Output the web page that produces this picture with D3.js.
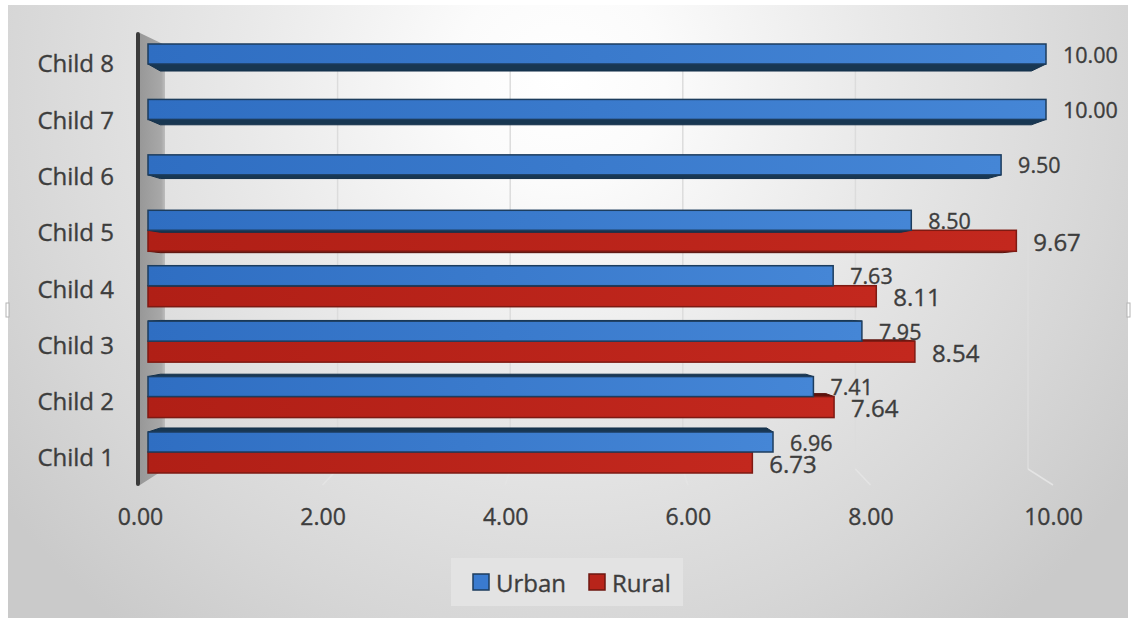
<!DOCTYPE html>
<html>
<head>
<meta charset="utf-8">
<script src="https://cdn.jsdelivr.net/npm/d3@7"></script>
<style>
  html, body { margin: 0; padding: 0; background: #ffffff; }
  svg { display: block; font-family: "Open Sans", "Noto Sans", sans-serif; }
  text { stroke: #3d3d3d; stroke-width: 0.35px; }
</style>
</head>
<body>
<svg id="chart" width="1132" height="618"></svg>
<script>
// Scores per child, urban vs rural
const categories = ["Child 1", "Child 2", "Child 3", "Child 4", "Child 5", "Child 6", "Child 7", "Child 8"];
const urban = [6.96, 7.41, 7.95, 7.63, 8.50, 9.50, 10.00, 10.00];
const rural = [6.73, 7.64, 8.54, 8.11, 9.67, null, null, null];
const xTicks = [0, 2, 4, 6, 8, 10];
const seriesNames = ["Urban", "Rural"];

const svg = d3.select("#chart");
const W = 1132, H = 618;
const fmt = d3.format(".2f");
const textColor = "#3d3d3d";

// 3D box geometry: front plane, bar plane and back wall share one value domain
const frontX = d3.scaleLinear().domain([0, 10]).range([140, 1053]);
const barX   = d3.scaleLinear().domain([0, 10]).range([148, 1046]);
const backX  = d3.scaleLinear().domain([0, 10]).range([165, 1028]);
const barY   = d3.scalePoint().domain(categories).range([452, 64]);   // boundary between the pair
const labelY = d3.scalePoint().domain(categories).range([457.5, 63.5]);

const eyeY = 298, eyeX = 560, depthK = 0.03;
const blueH = 20, redH = 21;

const defs = svg.append("defs");

const bg = defs.append("radialGradient").attr("id", "bg")
  .attr("gradientUnits", "userSpaceOnUse")
  .attr("cx", 560).attr("cy", 80).attr("r", 700);
[[0, "#ffffff"], [0.15, "#fbfbfb"], [0.45, "#e9e9e9"], [0.8, "#d6d6d6"], [1, "#cacaca"]]
  .forEach(([o, c]) => bg.append("stop").attr("offset", o).attr("stop-color", c));

const wall = defs.append("linearGradient").attr("id", "wall")
  .attr("x1", 0).attr("x2", 1).attr("y1", 0).attr("y2", 0);
wall.append("stop").attr("offset", 0).attr("stop-color", "#989898");
wall.append("stop").attr("offset", 0.85).attr("stop-color", "#a8a8a8");
wall.append("stop").attr("offset", 1).attr("stop-color", "#bdbdbd");

function faceGrad(id, c0, c1) {
  const g = defs.append("linearGradient").attr("id", id)
    .attr("x1", 0).attr("x2", 1).attr("y1", 0).attr("y2", 0);
  g.append("stop").attr("offset", 0).attr("stop-color", c0);
  g.append("stop").attr("offset", 1).attr("stop-color", c1);
}
faceGrad("blueFace", "#2f6ec2", "#4586d6");
faceGrad("redFace", "#b01f16", "#c3281e");

// chart background
svg.append("rect").attr("x", 8).attr("y", 5).attr("width", W - 12).attr("height", H - 5)
  .attr("fill", "url(#bg)");

// back wall gridlines and floor lines
const grid = svg.append("g");
xTicks.filter(v => v > 0).forEach(v => {
  grid.append("line")
    .attr("x1", backX(v)).attr("x2", backX(v)).attr("y1", 45).attr("y2", 469)
    .attr("stroke", "#dcdcdc").attr("stroke-width", 1.5);
  grid.append("line")
    .attr("x1", backX(v)).attr("x2", frontX(v)).attr("y1", 469).attr("y2", 485)
    .attr("stroke", "#e4e4e4").attr("stroke-width", 1.5);
});

// left side wall
svg.append("path")
  .attr("d", `M${frontX(0)},33 L${backX(0)},45 L${backX(0)},469 L${frontX(0)},485 Z`)
  .attr("fill", "url(#wall)");

// bars
const rows = categories.map((c, i) => ({ cat: c, u: urban[i], r: rural[i] }));
const bars = svg.append("g");

function depthFace(x0, x1, yTop, yBot) {
  // visible top or bottom face of a bar seen from eye height
  let ye = null;
  if (yBot < eyeY) ye = yBot;
  else if (yTop > eyeY) ye = yTop;
  if (ye === null) return null;
  const dy = depthK * (eyeY - ye);
  const dx0 = depthK * (eyeX - x0), dx1 = depthK * (eyeX - x1);
  return `M${x0},${ye} L${x1},${ye} L${x1 + dx1},${ye + dy} L${x0 + dx0},${ye + dy} Z`;
}

rows.forEach(d => {
  const yc = barY(d.cat);
  const x0 = barX(0);
  if (d.r != null) {
    const x1 = barX(d.r);
    const p = depthFace(x0, x1, yc, yc + redH);
    if (p) bars.append("path").attr("d", p).attr("fill", "#5c120d")
      .attr("stroke", "#5c120d").attr("stroke-width", 1);
    bars.append("rect").attr("x", x0).attr("y", yc).attr("width", x1 - x0).attr("height", redH)
      .attr("fill", "url(#redFace)").attr("stroke", "#7e1a13").attr("stroke-width", 1.5);
  }
  const x1 = barX(d.u);
  const p = depthFace(x0, x1, yc - blueH, yc);
  if (p) bars.append("path").attr("d", p).attr("fill", "#183752")
    .attr("stroke", "#14304a").attr("stroke-width", 1);
  bars.append("rect").attr("x", x0).attr("y", yc - blueH).attr("width", x1 - x0).attr("height", blueH)
    .attr("fill", "url(#blueFace)").attr("stroke", "#1d3d5e").attr("stroke-width", 1.5);
});

// value labels
const labels = svg.append("g").attr("fill", textColor);
rows.forEach(d => {
  const yc = barY(d.cat);
  labels.append("text").attr("x", barX(d.u) + 17).attr("y", yc - 10)
    .attr("dominant-baseline", "central").attr("font-size", 21.5).text(fmt(d.u));
  if (d.r != null) {
    labels.append("text").attr("x", barX(d.r) + 17).attr("y", yc + 11)
      .attr("dominant-baseline", "central").attr("font-size", 24).text(fmt(d.r));
  }
});

// vertical axis line
svg.append("line").attr("x1", 138).attr("x2", 138).attr("y1", 34).attr("y2", 484)
  .attr("stroke", "#3b3b3b").attr("stroke-width", 4).attr("stroke-linecap", "round");

// category axis labels
const yAxis = d3.axisLeft(labelY).tickSize(0).tickPadding(0);
svg.append("g").attr("transform", "translate(114,0)").call(yAxis)
  .call(g => g.select(".domain").remove())
  .call(g => g.selectAll("text").attr("fill", textColor).attr("font-size", 24)
    .attr("font-family", "\"Open Sans\", sans-serif").attr("dy", "0.35em"));

// value axis labels on the front plane
const xAxis = d3.axisBottom(frontX).tickValues(xTicks).tickFormat(fmt).tickSize(0).tickPadding(0);
svg.append("g").attr("transform", "translate(0,517)").call(xAxis)
  .call(g => g.select(".domain").remove())
  .call(g => g.selectAll("text").attr("fill", textColor).attr("font-size", 23)
    .attr("font-family", "\"Open Sans\", sans-serif").attr("dy", "0.35em"));

// legend
const legend = svg.append("g");
legend.append("rect").attr("x", 451).attr("y", 558).attr("width", 232).attr("height", 48)
  .attr("fill", "#e3e3e3");
const legendItems = [
  { name: seriesNames[0], x: 473, fill: "#3a7bcf", stroke: "#1d3d5e" },
  { name: seriesNames[1], x: 589, fill: "#b8241a", stroke: "#6e1711" }
];
legendItems.forEach(it => {
  legend.append("rect").attr("x", it.x).attr("y", 574).attr("width", 16).attr("height", 16)
    .attr("fill", it.fill).attr("stroke", it.stroke).attr("stroke-width", 1.5);
  legend.append("text").attr("x", it.x + 23).attr("y", 582).attr("dominant-baseline", "central")
    .attr("fill", textColor).attr("font-size", 24).text(it.name);
});

// chart frame handles
const handles = svg.append("g").attr("fill", "#ffffff").attr("stroke", "#b4b4b4").attr("stroke-width", 1);
handles.append("rect").attr("x", 6).attr("y", 303).attr("width", 3).attr("height", 14);
handles.append("rect").attr("x", 1127).attr("y", 303).attr("width", 3).attr("height", 14);
</script>
</body>
</html>
